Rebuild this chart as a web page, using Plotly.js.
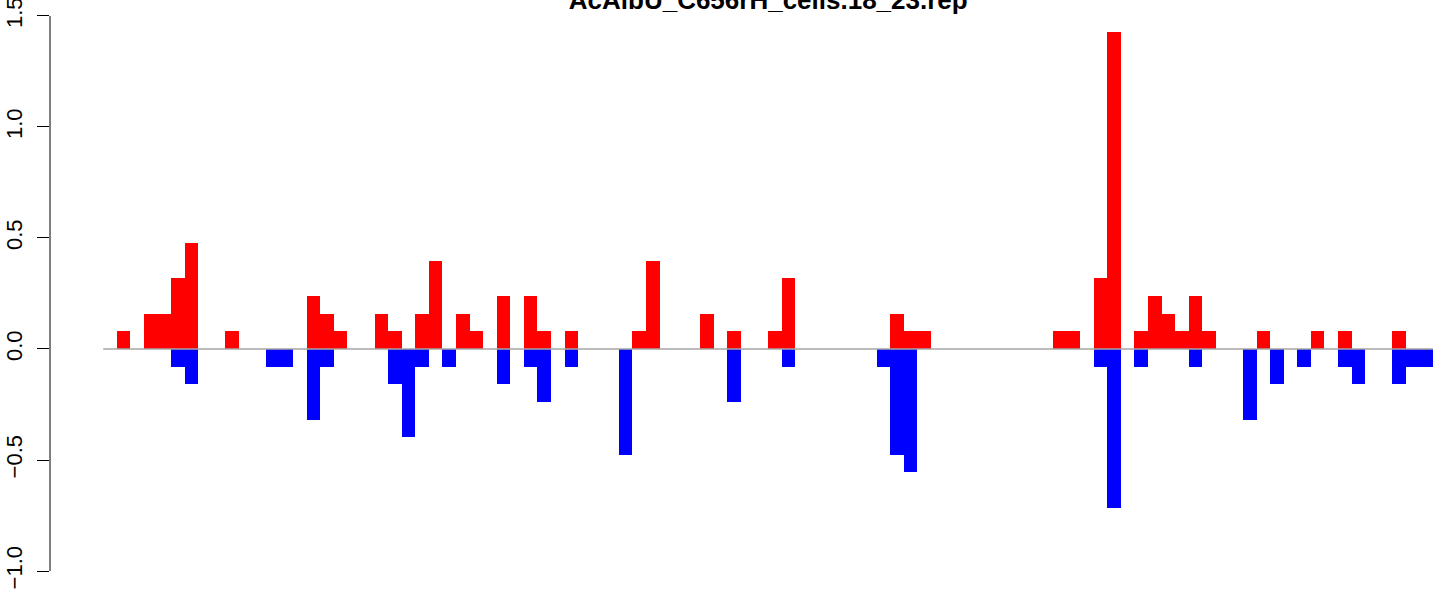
<!DOCTYPE html>
<html>
<head>
<meta charset="utf-8">
<script src="https://cdn.plot.ly/plotly-3.0.1.min.js"></script>
<style>html,body{margin:0;padding:0;background:#fff;}#chart{width:1455px;height:592px;}</style>
</head>
<body>
<div id="chart"></div>
<script>
const chartTitle = "AcAlbU_C656rH_cells.18_23.rep";
const redValues = [
  0, 0.079, 0, 0.159, 0.159, 0.318, 0.476, 0, 0, 0.079,
  0, 0, 0, 0, 0, 0.238, 0.159, 0.079, 0, 0,
  0.159, 0.079, 0, 0.159, 0.397, 0, 0.159, 0.079, 0, 0.238,
  0, 0.238, 0.079, 0, 0.079, 0, 0, 0, 0, 0.079,
  0.397, 0, 0, 0, 0.159, 0, 0.079, 0, 0, 0.079,
  0.318, 0, 0, 0, 0, 0, 0, 0, 0.159, 0.079,
  0.079, 0, 0, 0, 0, 0, 0, 0, 0, 0,
  0.079, 0.079, 0, 0.318, 1.429, 0, 0.079, 0.238, 0.159, 0.079,
  0.238, 0.079, 0, 0, 0, 0.079, 0, 0, 0, 0.079,
  0, 0.079, 0, 0, 0, 0.079, 0, 0
];
const blueValues = [
  0, 0, 0, 0, 0, -0.079, -0.159, 0, 0, 0,
  0, 0, -0.079, -0.079, 0, -0.318, -0.079, 0, 0, 0,
  0, -0.159, -0.397, -0.079, 0, -0.079, 0, 0, 0, -0.159,
  0, -0.079, -0.238, 0, -0.079, 0, 0, 0, -0.476, 0,
  0, 0, 0, 0, 0, 0, -0.238, 0, 0, 0,
  -0.079, 0, 0, 0, 0, 0, 0, -0.079, -0.476, -0.556,
  0, 0, 0, 0, 0, 0, 0, 0, 0, 0,
  0, 0, 0, -0.079, -0.715, 0, -0.079, 0, 0, 0,
  -0.079, 0, 0, 0, -0.318, 0, -0.159, 0, -0.079, 0,
  0, -0.079, -0.159, 0, 0, -0.159, -0.079, -0.079
];
const yTickVals = [-1, -0.5, 0, 0.5, 1, 1.5];
const yTickText = ["\u22121.0", "\u22120.5", "0.0", "0.5", "1.0", "1.5"];

const n = redValues.length;
const xs = redValues.map((_, i) => i + 0.5);
const ext = 0.04 * n;

const traces = [
  {type: 'bar', x: xs, y: redValues, width: 1, marker: {color: '#FF0000', line: {width: 0}}, hoverinfo: 'skip'},
  {type: 'bar', x: xs, y: blueValues, width: 1, marker: {color: '#0000FF', line: {width: 0}}, hoverinfo: 'skip'}
];

const layout = {
  width: 1455, height: 592,
  margin: {l: 50, r: 0, t: 0, b: 0, pad: 0},
  paper_bgcolor: '#fff', plot_bgcolor: '#fff',
  showlegend: false,
  barmode: 'relative', bargap: 0,
  title: {
    text: '<b>' + chartTitle + '</b>',
    font: {family: 'Liberation Sans, Arial, sans-serif', size: 26, color: '#000'},
    xref: 'container', x: 0.528, xanchor: 'center',
    yref: 'container', y: 1.0, yanchor: 'middle'
  },
  xaxis: {
    range: [-ext, n + 1.62], showgrid: false, zeroline: false, showline: false,
    showticklabels: false, ticks: ''
  },
  yaxis: {
    range: [-1.0946, 1.572], showgrid: false, zeroline: false, showline: false,
    tickmode: 'array', tickvals: yTickVals, ticktext: yTickText,
    ticks: 'outside', ticklen: 12, tickwidth: 1, tickcolor: '#000',
    tickangle: -90, ticklabelstandoff: 6, ticklabeloverflow: 'allow',
    tickfont: {family: 'Liberation Sans, Arial, sans-serif', size: 22, color: '#000'}
  },
  shapes: [
    {type: 'line', xref: 'paper', yref: 'y', x0: 0, x1: 0, y0: yTickVals[0], y1: yTickVals[yTickVals.length - 1], line: {color: '#000', width: 1}},
    {type: 'line', xref: 'x', yref: 'y', x0: 0, x1: n, y0: 0, y1: 0, line: {color: '#A6A6A6', width: 1.5}, layer: 'above'}
  ]
};

Plotly.newPlot('chart', traces, layout, {staticPlot: true, displayModeBar: false});
</script>
</body>
</html>
